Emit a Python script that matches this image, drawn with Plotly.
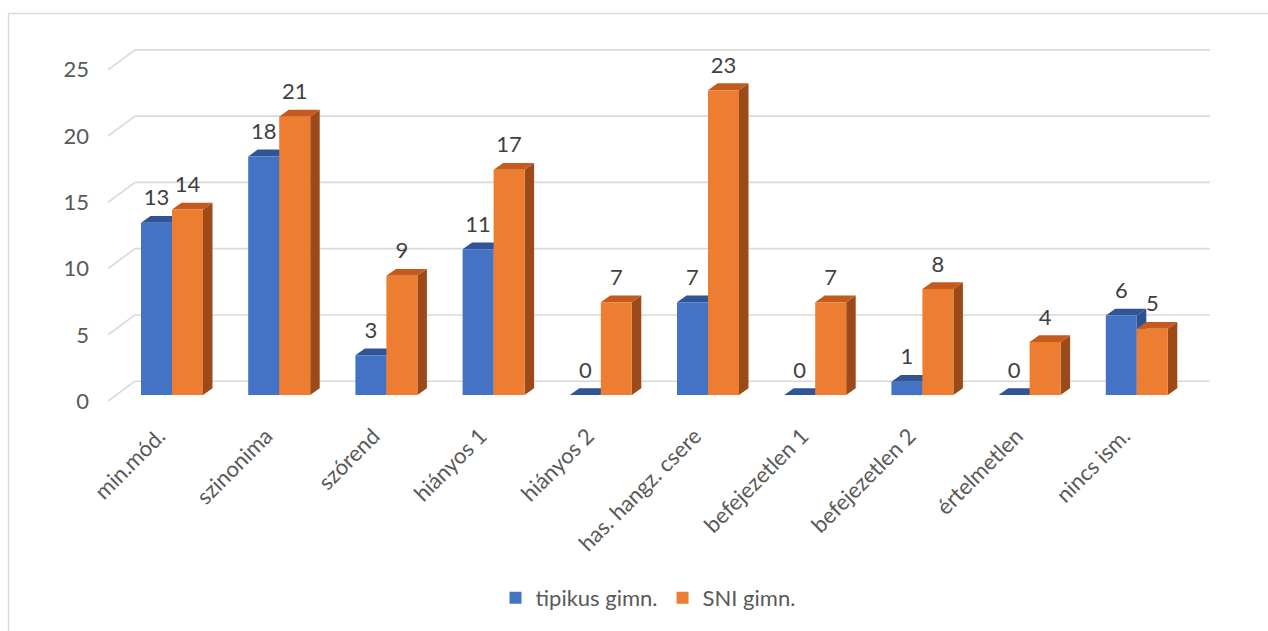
import plotly.graph_objects as go

# ---- data ----
categories = ["min.mód.", "szinonima", "szórend", "hiányos 1", "hiányos 2",
              "has. hangz. csere", "befejezetlen 1", "befejezetlen 2",
              "értelmetlen", "nincs ism."]
tipikus = [13, 18, 3, 11, 0, 7, 0, 1, 0, 6]
sni = [14, 21, 9, 17, 7, 23, 7, 8, 4, 5]
y_ticks = [0, 5, 10, 15, 20, 25]
series_names = ["tipikus gimn.", "SNI gimn."]

# ---- geometry (pixel layout of the pseudo-3D plot) ----
W, H = 1268, 631
L, R, T, B = 108, 1250, 30, 420          # plot area in pixels
X0_PX, STEP_PX = 172, 107.2              # first category centre, category pitch
Y0_PX, UNIT_PX = 397, 13.32              # baseline of bar fronts, pixels per unit

def px_to_x(px):
    return (px - X0_PX) / STEP_PX

BAR_W = 31 / STEP_PX                     # width of one bar
DDX = 9.5 / STEP_PX                      # bar depth (x)
DDY = 7 / UNIT_PX                        # bar depth (y)
WALL_FRONT_X = px_to_x(108)
WALL_BACK_X = px_to_x(135)
WALL_RIGHT_X = px_to_x(1210)
WALL_FRONT_DY = -6 / UNIT_PX
WALL_BACK_DY = 14 / UNIT_PX
LABEL_DY = 23 / UNIT_PX
TICK_SHIFT = 13 / STEP_PX

FONT = "Lato"
FS = 22
GRID = "#D9D9D9"
AXIS_TXT = "#595959"
LABEL_TXT = "#404040"

colors = {
    "front": ["#4472C4", "#ED7D31"],
    "top": ["#2F5597", "#C45A1C"],
    "side": ["#2E5191", "#9C4A1A"],
}

x_idx = list(range(len(categories)))
series = [tipikus, sni]
offsets = [-BAR_W, 0.0]

shapes = []

# walls: side-wall diagonals and back-wall gridlines
for v in y_ticks:
    shapes.append(dict(type="line", xref="x", yref="y", layer="below",
                       x0=WALL_FRONT_X, y0=v + WALL_FRONT_DY,
                       x1=WALL_BACK_X, y1=v + WALL_BACK_DY,
                       line=dict(color=GRID, width=1.6)))
    shapes.append(dict(type="line", xref="x", yref="y", layer="below",
                       x0=WALL_BACK_X, y0=v + WALL_BACK_DY,
                       x1=WALL_RIGHT_X, y1=v + WALL_BACK_DY,
                       line=dict(color=GRID, width=1.6)))

def poly(points):
    return "M " + " L ".join(f"{x:.5f},{y:.5f}" for x, y in points) + " Z"

# top and side faces of each column (fronts are the bar traces)
for i in x_idx:
    for s, vals in enumerate(series):
        v = vals[i]
        a = i + offsets[s]
        b = a + BAR_W
        side = [(b, 0), (b, v), (b + DDX, v + DDY), (b + DDX, DDY)]
        top = [(a, v), (b, v), (b + DDX, v + DDY), (a + DDX, v + DDY)]
        shapes.append(dict(type="path", xref="x", yref="y", layer="below",
                           path=poly(side), fillcolor=colors["side"][s],
                           line=dict(width=0)))
        shapes.append(dict(type="path", xref="x", yref="y", layer="below",
                           path=poly(top), fillcolor=colors["top"][s],
                           line=dict(width=0)))

# chart border (left and top edges visible)
def px_paper_x(px):
    return (px - L) / (R - L)

def px_paper_y(py):
    return (B - py) / (B - T)

shapes.append(dict(type="line", xref="paper", yref="paper",
                   x0=px_paper_x(8.5), y0=px_paper_y(13.5),
                   x1=px_paper_x(8.5), y1=px_paper_y(H + 10),
                   line=dict(color=GRID, width=1.5)))
shapes.append(dict(type="line", xref="paper", yref="paper",
                   x0=px_paper_x(8.5), y0=px_paper_y(13.5),
                   x1=px_paper_x(W + 10), y1=px_paper_y(13.5),
                   line=dict(color=GRID, width=1.5)))

fig = go.Figure()

for s, vals in enumerate(series):
    fig.add_trace(go.Bar(
        x=x_idx, y=vals, width=BAR_W, offset=offsets[s],
        name=series_names[s],
        marker=dict(color=colors["front"][s], line=dict(width=0)),
    ))

for s, vals in enumerate(series):
    fig.add_trace(go.Scatter(
        x=[i + offsets[s] + BAR_W / 2 for i in x_idx],
        y=[v + LABEL_DY for v in vals],
        text=[str(v) for v in vals],
        mode="text", textposition="middle center",
        textfont=dict(family=FONT, size=FS, color=LABEL_TXT),
        showlegend=False, hoverinfo="skip",
    ))

fig.update_layout(
    width=W, height=H,
    margin=dict(l=L, r=W - R, t=T, b=H - B),
    paper_bgcolor="white", plot_bgcolor="white",
    barmode="overlay",
    shapes=shapes,
    font=dict(family=FONT, size=FS, color=AXIS_TXT),
    legend=dict(orientation="h", x=px_paper_x(648), xanchor="center",
                y=px_paper_y(601), yanchor="middle",
                font=dict(family=FONT, size=FS, color=AXIS_TXT),
                itemwidth=30, traceorder="normal"),
    xaxis=dict(range=[px_to_x(L), px_to_x(R)], showgrid=False, zeroline=False,
               showline=False, ticks="", tickmode="array",
               tickvals=[i - TICK_SHIFT for i in x_idx], ticktext=categories,
               tickangle=-45, tickfont=dict(family=FONT, size=FS, color=AXIS_TXT)),
    yaxis=dict(range=[(Y0_PX - B) / UNIT_PX, (Y0_PX - T) / UNIT_PX],
               showgrid=False, zeroline=False, showline=False, ticks="",
               tickmode="array", tickvals=[t + WALL_FRONT_DY for t in y_ticks],
               ticktext=[str(t) for t in y_ticks], ticklabelstandoff=18,
               tickfont=dict(family=FONT, size=FS, color=AXIS_TXT)),
)

fig.write_html("out.html")
